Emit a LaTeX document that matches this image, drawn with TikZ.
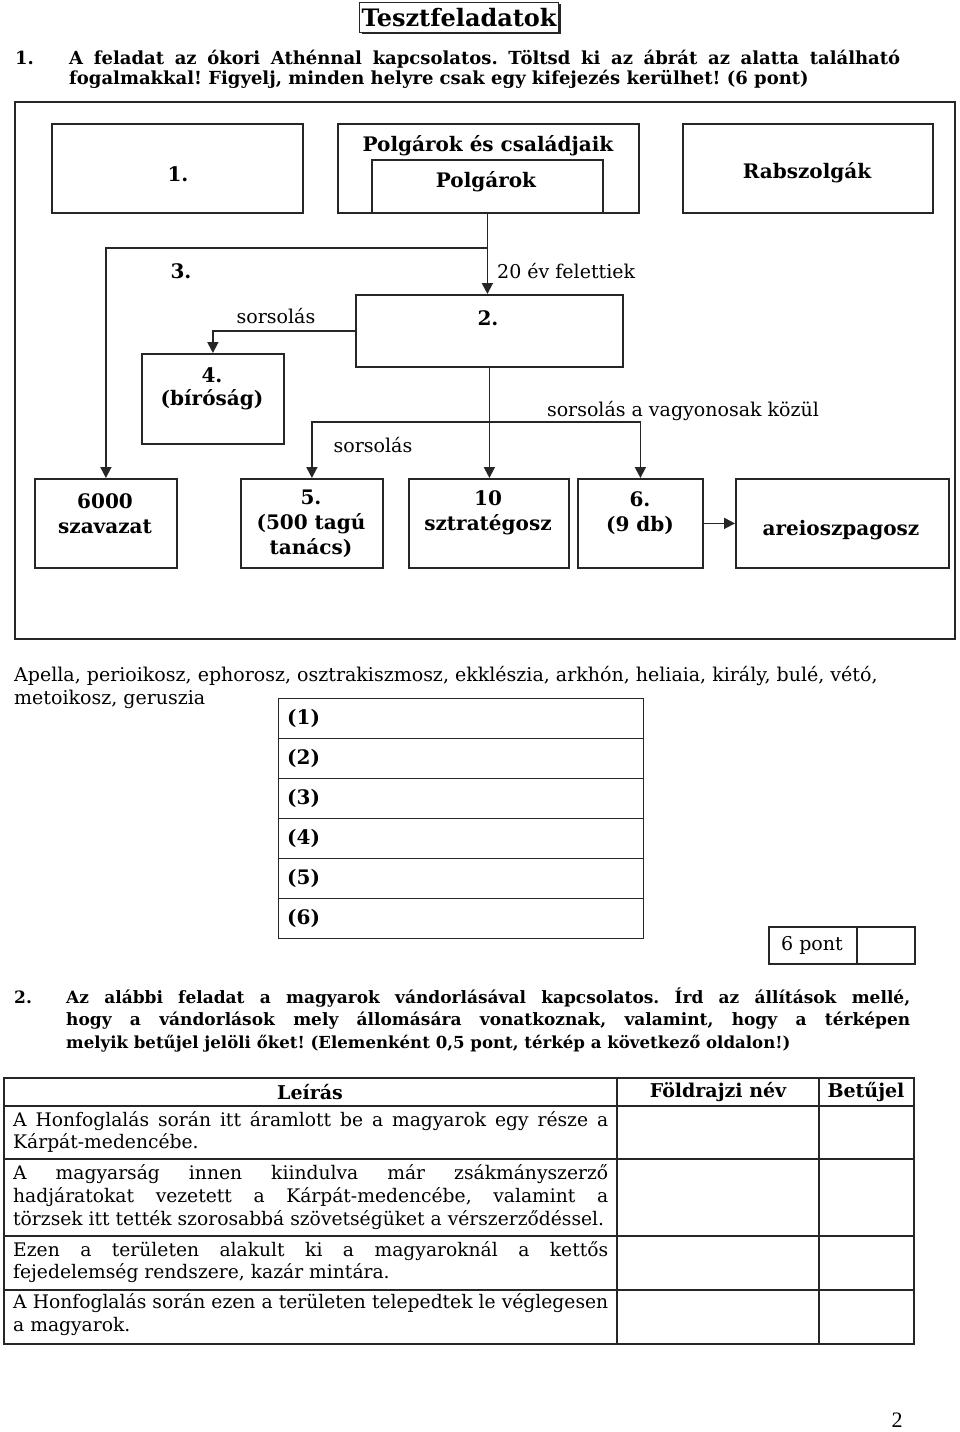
\documentclass[tikz,border=0pt]{standalone}
\usepackage{fontspec}
\setmainfont{DejaVu Serif}
\newfontfamily\oldalszamfont{Liberation Serif}
\usetikzlibrary{arrows.meta}
\frenchspacing

\newcommand{\normtxt}{\fontsize{19}{23}\selectfont}
\newcommand{\tablatxt}{\fontsize{18.7}{23}\selectfont}
\newcommand{\vastxt}{\fontsize{20}{25}\selectfont\bfseries}
\newcommand{\feladattxt}{\fontsize{18}{23}\selectfont\bfseries}
\newcommand{\sorkizart}[2]{\makebox[#1][s]{#2}}

\tikzset{
  doboz/.style={draw=black!85, line width=1.8pt, rectangle, inner sep=0pt, anchor=north west},
  vonal/.style={draw=black!85, line width=1.8pt},
  nyil/.style={vonal, -{Triangle[length=11pt,width=11pt]}},
  felirat/.style={font=\vastxt, align=center, inner sep=0pt},
  szoveg/.style={font=\normtxt, inner sep=0pt, anchor=base west},
  sortxt/.style={font=\tablatxt, inner sep=0pt, anchor=base west},
  feladat/.style={font=\feladattxt, inner sep=0pt, anchor=base west},
}

\begin{document}
\begin{tikzpicture}[x=1pt,y=-1pt]
            \useasboundingbox (0,0) rectangle (960,1432);

            % Title with shadow
            \fill [black!85] (362,4) rectangle (561,34);%
            \node [doboz, line width=1.3pt, fill=white, minimum width=199pt, minimum height=30pt] (cimdoboz) at (359,2) {};%
            \node [felirat, font=\fontsize{24}{28}\selectfont\bfseries] (cim) at (cimdoboz.center) {Tesztfeladatok};%

            % Task 1 text
            \node [feladat] (f1szam) at (15,64) {1.};%
            \node [feladat] (f1sor1) at (69,64) {\sorkizart{831pt}{A feladat az ókori Athénnal kapcsolatos. Töltsd ki az ábrát az alatta található}};%
            \node [feladat] (f1sor2) at (69,84) {fogalmakkal! Figyelj, minden helyre csak egy kifejezés kerülhet! (6 pont)};%

            % Frame of the chart
            \node [doboz, minimum width=940pt, minimum height=537pt] (keret) at (14,101) {};%

            % Top row of boxes
            \node [doboz, minimum width=251pt, minimum height=89pt] (elso) at (51,123) {};%
            \node [doboz, minimum width=301pt, minimum height=89pt] (polgcsal) at (337,123) {};%
            \node [doboz, minimum width=231pt, minimum height=53pt] (polg) at (371,159) {};%
            \node [doboz, minimum width=250pt, minimum height=89pt] (rab) at (682,123) {};%
            \node [felirat] (elsotxt) at (178,174) {1.};%
            \node [felirat] (polgcsaltxt) at (488,146) {Polgárok és családjaik};%
            \node [felirat] (polgtxt) at (486,182) {Polgárok};%
            \node [felirat] (rabtxt) at (807,173) {Rabszolgák};%

            % Middle boxes
            \node [doboz, minimum width=267pt, minimum height=72pt] (masodik) at (355,294) {};%
            \node [doboz, minimum width=142pt, minimum height=90pt] (birosag) at (141,353) {};%
            \node [felirat] (masodiktxt) at (488,318) {2.};%
            \node [felirat, font=\fontsize{20}{23}\selectfont\bfseries] (birosagtxt) at (212,389) {4.\\(bíróság)};%
            \node [felirat] (harmadiktxt) at (181,271) {3.};%

            % Bottom row of boxes
            \node [doboz, minimum width=142pt, minimum height=89pt] (szavazat) at (34,478) {};%
            \node [doboz, minimum width=142pt, minimum height=89pt] (tanacs) at (240,478) {};%
            \node [doboz, minimum width=160pt, minimum height=89pt] (sztrat) at (408,478) {};%
            \node [doboz, minimum width=125pt, minimum height=89pt] (hatodik) at (577,478) {};%
            \node [doboz, minimum width=213pt, minimum height=89pt] (areio) at (735,478) {};%
            \node [felirat] (szavazattxt) at (105,514) {6000\\szavazat};%
            \node [felirat] (tanacstxt) at (311,524) {5.\\(500 tagú\\tanács)};%
            \node [felirat] (sztrattxt) at (488,513) {10\\sztratégosz};%
            \node [felirat] (hatodiktxt) at (640,513) {6.\\(9 db)};%
            \node [felirat] (areiotxt) at (841,530) {areioszpagosz};%

            % Connectors
            \coordinate (elag3) at (polg.south |- 0,248);%
            \coordinate (elag5) at (masodik.south |- 0,422);%
            \draw [nyil] (polg.south) -- (polg.south |- masodik.north);%
            \draw [nyil] (elag3) -| (szavazat.north);%
            \draw [nyil] (masodik.west) -| (birosag.north);%
            \draw [nyil] (masodik.south) -- (masodik.south |- sztrat.north);%
            \draw [nyil] (elag5) -| (tanacs.north);%
            \draw [nyil] (elag5) -| (hatodik.north);%
            \draw [nyil] (hatodik.east) -- (areio.west);%

            % Connector labels
            \node [szoveg] (felettiek) at (497,278) {20 év felettiek};%
            \node [szoveg, anchor=base] (sorsolas1) at (276,323) {sorsolás};%
            \node [szoveg, anchor=base] (vagyonos) at (683,416) {sorsolás a vagyonosak közül};%
            \node [szoveg, anchor=base] (sorsolas2) at (373,452) {sorsolás};%

            % Word list
            \node [szoveg] (szolista1) at (14,681) {Apella, perioikosz, ephorosz, osztrakiszmosz, ekklészia, arkhón, heliaia, király, bulé, vétó,};%
            \node [szoveg] (szolista2) at (14,704) {metoikosz, geruszia};%

            % Answer rows
            \foreach \i in {1,...,6} {%
              \node [doboz, line width=1.3pt, minimum width=365pt, minimum height=40pt] (valasz\i) at (278,658+40*\i) {};%
              \node [felirat, anchor=west] (valasztxt\i) at ([xshift=9pt]valasz\i.west) {(\i)};%
            }

            % Score box
            \node [doboz, line width=2.2pt, minimum width=146pt, minimum height=37pt] (pont) at (768,926) {};%
            \draw [vonal, line width=1.3pt] ([xshift=89pt]pont.north west) -- ([xshift=89pt]pont.south west);%
            \node [szoveg, anchor=center] (ponttxt) at (812,945) {6 pont};%

            % Task 2 text
            \node [feladat, font=\fontsize{17}{23}\selectfont\bfseries] (f2szam) at (14,1003) {2.};%
            \node [feladat, font=\fontsize{17}{23}\selectfont\bfseries] (f2sor1) at (66,1003) {\sorkizart{844pt}{Az alábbi feladat a magyarok vándorlásával kapcsolatos. Írd az állítások mellé,}};%
            \node [feladat, font=\fontsize{17}{23}\selectfont\bfseries] (f2sor2) at (66,1025) {\sorkizart{844pt}{hogy a vándorlások mely állomására vonatkoznak, valamint, hogy a térképen}};%
            \node [feladat, font=\fontsize{16.6}{23}\selectfont\bfseries] (f2sor3) at (66,1048) {melyik betűjel jelöli őket! (Elemenként 0,5 pont, térkép a következő oldalon!)};%

            % Table of task 2
            \node [doboz, line width=2pt, minimum width=910pt, minimum height=266pt] (tabla) at (3,1077) {};%
            \foreach \y in {1106,1159,1236,1290} {%
              \draw [vonal, line width=1.3pt] (tabla.west |- 0,\y) -- (tabla.east |- 0,\y);%
            }
            \foreach \x in {617,819} {%
              \draw [vonal, line width=1.3pt] (tabla.north -| \x,0) -- (tabla.south -| \x,0);%
            }
            \node [felirat, font=\fontsize{19}{23}\selectfont\bfseries] (fejlec1) at (310,1092) {Leírás};%
            \node [felirat, font=\fontsize{19}{23}\selectfont\bfseries] (fejlec2) at (718,1092) {Földrajzi név};%
            \node [felirat, font=\fontsize{19}{23}\selectfont\bfseries] (fejlec3) at (866,1092) {Betűjel};%

            % Rows of the table
            \node [sortxt] (sor1a) at (13,1126) {\sorkizart{595pt}{A Honfoglalás során itt áramlott be a magyarok egy része a}};%
            \node [sortxt] (sor1b) at (13,1148) {Kárpát-medencébe.};%
            \node [sortxt] (sor2a) at (13,1179) {\sorkizart{595pt}{A magyarság innen kiindulva már zsákmányszerző}};%
            \node [sortxt] (sor2b) at (13,1202) {\sorkizart{595pt}{hadjáratokat vezetett a Kárpát-medencébe, valamint a}};%
            \node [sortxt] (sor2c) at (13,1225) {törzsek itt tették szorosabbá szövetségüket a vérszerződéssel.};%
            \node [sortxt] (sor3a) at (13,1256) {\sorkizart{595pt}{Ezen a területen alakult ki a magyaroknál a kettős}};%
            \node [sortxt] (sor3b) at (13,1278) {fejedelemség rendszere, kazár mintára.};%
            \node [sortxt] (sor4a) at (13,1308) {\sorkizart{595pt}{A Honfoglalás során ezen a területen telepedtek le véglegesen}};%
            \node [sortxt] (sor4b) at (13,1331) {a magyarok.};%

            % Page number
            \node [inner sep=0pt, font=\oldalszamfont\fontsize{22}{26}\selectfont] (oldalszam) at (897,1420) {2};%
\end{tikzpicture}
\end{document}
